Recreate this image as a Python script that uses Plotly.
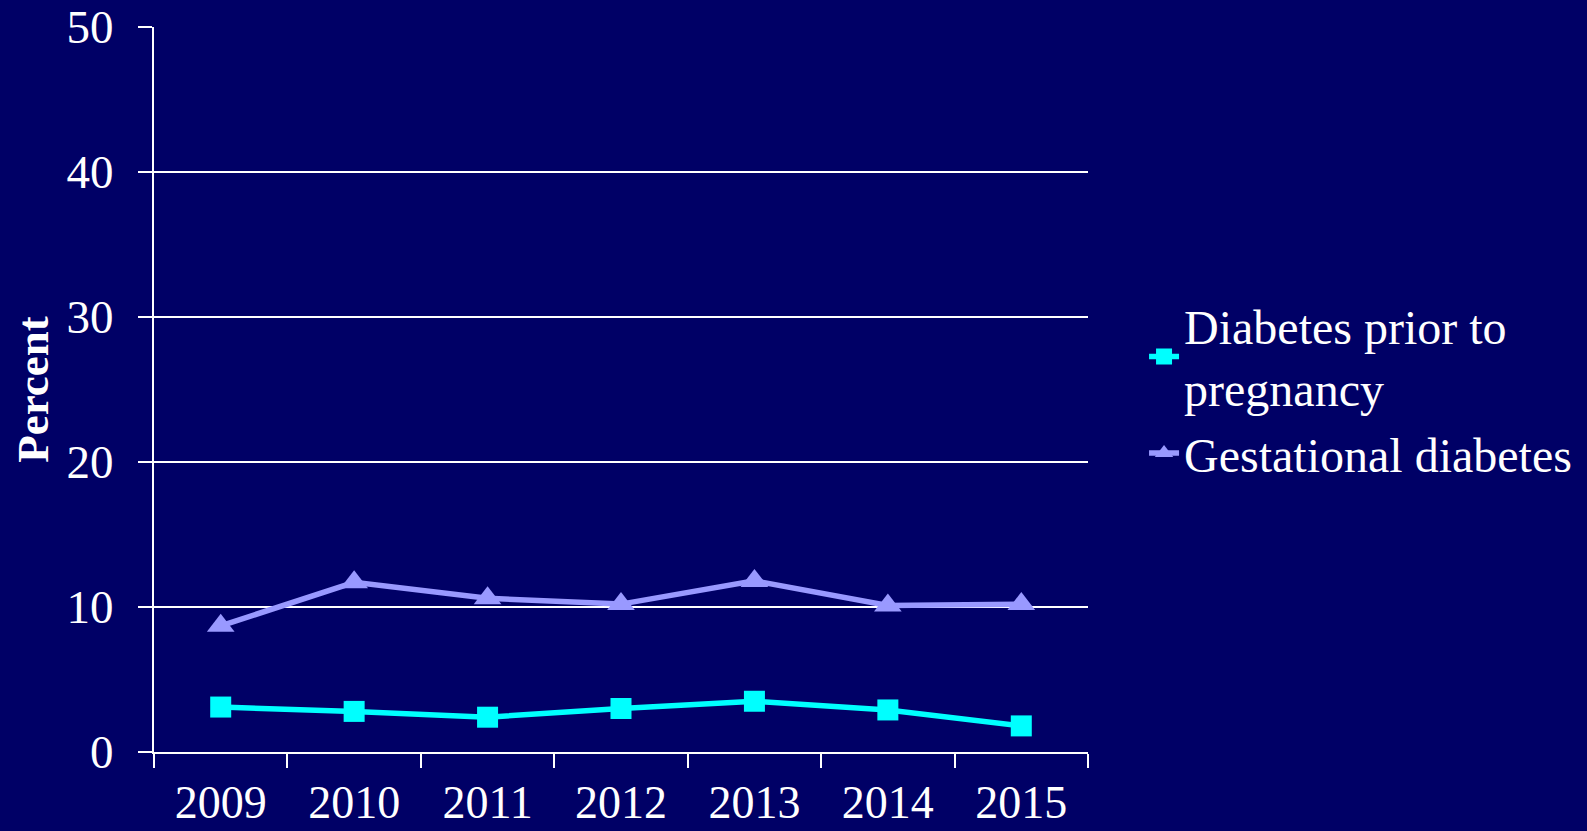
import plotly.graph_objects as go

years = ["2009", "2010", "2011", "2012", "2013", "2014", "2015"]
prior = [3.1, 2.8, 2.4, 3.0, 3.5, 2.9, 1.8]
gestational = [8.7, 11.7, 10.6, 10.2, 11.8, 10.1, 10.2]
y_ticks = [0, 10, 20, 30, 40, 50]

BG = "#000066"
FONT = "Liberation Serif"

fig = go.Figure()
fig.add_trace(go.Scatter(
    x=years, y=prior, mode="lines+markers",
    name="Diabetes prior to<br>pregnancy",
    line=dict(color="#00FFFF", width=5.5),
    marker=dict(symbol="square", size=21, color="#00FFFF"),
))
fig.add_trace(go.Scatter(
    x=years, y=gestational, mode="lines+markers",
    name="Gestational diabetes",
    line=dict(color="#9999FF", width=5.5),
    marker=dict(symbol="triangle-up", size=24, color="#9999FF"),
))

fig.update_layout(
    width=1587, height=831,
    paper_bgcolor=BG, plot_bgcolor=BG,
    margin=dict(l=154, r=499, t=27, b=79, autoexpand=False),
    font=dict(family=FONT, color="white", size=47),
    showlegend=True,
    legend=dict(
        x=1.06, y=0.5, xanchor="left", yanchor="middle",
        bgcolor="rgba(0,0,0,0)", font=dict(size=48, family=FONT, color="white"),
        itemwidth=30, tracegroupgap=0,
    ),
    xaxis=dict(
        type="category", range=[-0.5, 6.5], tickson="boundaries",
        showline=True, linecolor="white", linewidth=2,
        ticks="outside", ticklen=14, tickwidth=2, tickcolor="white",
        showgrid=False, ticklabelstandoff=9, automargin=False,
        tickfont=dict(size=46, family=FONT, color="white"),
    ),
    yaxis=dict(
        range=[0, 50], tickvals=y_ticks,
        showline=True, linecolor="white", linewidth=2,
        ticks="outside", ticklen=14, tickwidth=2, tickcolor="white",
        showgrid=True, gridcolor="white", gridwidth=2, zeroline=False,
        ticklabelstandoff=15,
        tickfont=dict(size=47, family=FONT, color="white"),
        title=dict(text="<b>Percent</b>", font=dict(size=45, family=FONT, color="white"), standoff=4),
        automargin=False,
    ),
)

fig.write_html(
    "out.html",
    config={"displayModeBar": False},
    post_script="document.body.style.margin='0';document.body.style.overflow='hidden';",
)
